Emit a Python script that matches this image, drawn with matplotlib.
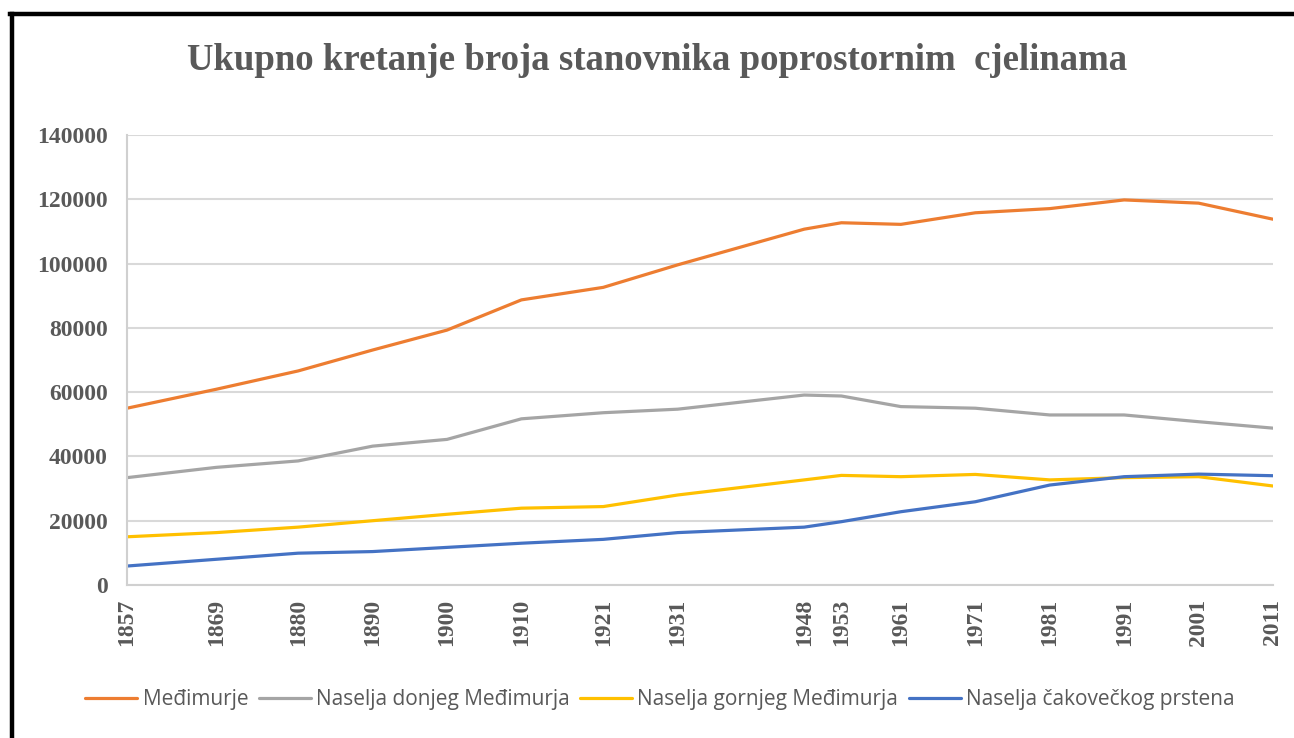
import matplotlib
matplotlib.use("Agg")
import matplotlib.pyplot as plt
from matplotlib.lines import Line2D

years = [1857, 1869, 1880, 1890, 1900, 1910, 1921, 1931, 1948, 1953, 1961, 1971, 1981, 1991, 2001, 2011]
medimurje = [55000, 60900, 66600, 73100, 79300, 88700, 92600, 99600, 110700, 112700, 112200, 115800, 117100, 119800, 118800, 113800]
donje = [33400, 36600, 38600, 43200, 45300, 51700, 53600, 54700, 59100, 58800, 55500, 55000, 52900, 52900, 50800, 48800]
gornje = [15000, 16300, 18000, 20000, 22000, 23900, 24400, 28000, 32700, 34100, 33700, 34400, 32700, 33400, 33700, 30800]
cakovec = [5900, 8000, 9900, 10400, 11700, 13000, 14200, 16300, 18000, 19700, 22800, 25900, 31100, 33700, 34500, 34000]
series_names = ["Međimurje", "Naselja donjeg Međimurja", "Naselja gornjeg Međimurja", "Naselja čakovečkog prstena"]
yticks = [0, 20000, 40000, 60000, 80000, 100000, 120000, 140000]
title = "Ukupno kretanje broja stanovnika poprostornim  cjelinama"

colors = ["#ED7D31", "#A5A5A5", "#FFC000", "#4472C4"]
txt = "#595959"

fig = plt.figure(figsize=(12.94, 7.38), dpi=100)
ax = fig.add_axes([127/1294, 1-585/738, (1273-127)/1294, (585-135)/738])

for vals, name, c in zip([medimurje, donje, gornje, cakovec], series_names, colors):
    ax.plot(years, vals, color=c, lw=2.3, label=name, solid_capstyle="round")

ax.set_xlim(years[0], years[-1])
ax.set_ylim(0, 140000)
ax.set_yticks(yticks)
ax.set_yticklabels([str(v) for v in yticks])
ax.set_xticks(years)
ax.set_xticklabels([str(y) for y in years], rotation=90)
ax.grid(axis="y", color="#D9D9D9", lw=1.5)
ax.set_axisbelow(True)
for s in ["top", "right"]:
    ax.spines[s].set_visible(False)
for s in ["left", "bottom"]:
    ax.spines[s].set_color("#D0D0D0")
    ax.spines[s].set_linewidth(1.5)
ax.tick_params(length=0)
ax.tick_params(axis="y", pad=14)
ax.tick_params(axis="x", pad=10)
for lab in ax.get_xticklabels() + ax.get_yticklabels():
    lab.set_fontfamily("Liberation Serif")
    lab.set_fontweight("bold")
    lab.set_fontsize(17)
    lab.set_color(txt)

fig.text(0.508, 1-60/738, title, ha="center", va="center", fontsize=26.5,
         fontweight="bold", family="Liberation Serif", color=txt)

leg = fig.legend(loc="center", bbox_to_anchor=(0.510, 1-700/738), ncol=4, frameon=False,
                 prop={"family": "Open Sans", "size": 15}, handlelength=2.5,
                 handletextpad=0.25, columnspacing=0.5)
for t in leg.get_texts():
    t.set_color(txt)

fig.add_artist(Line2D([10/1294, 1], [1-14/738, 1-14/738], color="black", lw=3.2,
                      transform=fig.transFigure))
fig.add_artist(Line2D([12/1294, 12/1294], [0, 1-14/738], color="black", lw=3.2,
                      transform=fig.transFigure))

fig.savefig("out.png", dpi=100)
